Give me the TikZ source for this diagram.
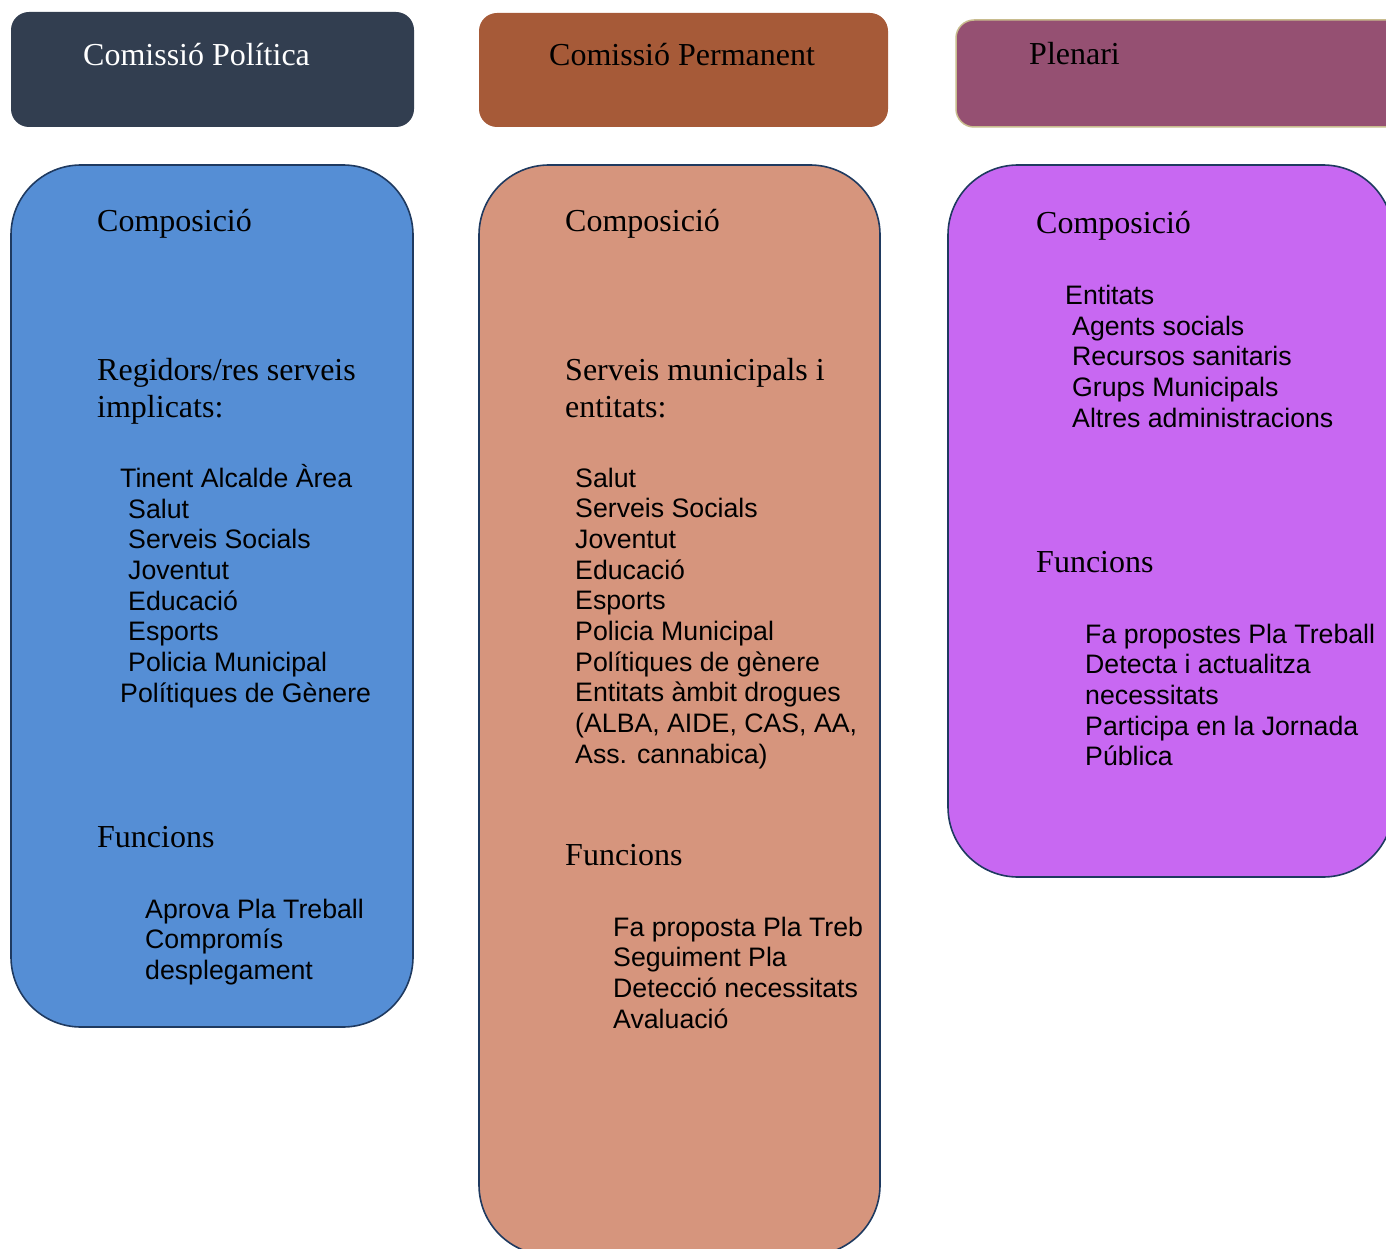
\documentclass[tikz,border=0pt]{standalone}
\usepackage{fontspec}
\setmainfont{Liberation Serif}
\newfontfamily\listfont{Liberation Sans}
\definecolor{headA}{HTML}{323E50}
\definecolor{headB}{HTML}{A65A38}
\definecolor{headC}{HTML}{955072}
\definecolor{headCline}{HTML}{C8BC8E}
\definecolor{bodyA}{HTML}{558ED5}
\definecolor{bodyB}{HTML}{D6957D}
\definecolor{bodyC}{HTML}{C868F2}
\definecolor{bodyline}{HTML}{1F3A60}
\begin{document}
% multi-line nodes are placed by the baseline of their last line
\begin{tikzpicture}[x=1pt,y=-1pt,
  headbox/.style={rectangle, rounded corners=18pt, inner sep=0pt},
  bodybox/.style={rectangle, rounded corners=70pt, inner sep=0pt, draw=bodyline, line width=1.6pt},
  title/.style={anchor=base west, inner sep=0pt, font=\fontsize{32}{37}\selectfont},
  heading/.style={anchor=base west, inner sep=0pt, align=left, font=\fontsize{32}{37}\selectfont},
  items/.style={anchor=base west, inner sep=0pt, align=left, font=\listfont\fontsize{26.7}{30.7}\selectfont}]
\path[use as bounding box] (0,0) rectangle (1386,1249);
\clip (0,0) rectangle (1386,1249);

% column headers
\node[headbox, fill=headA, minimum width=403pt, minimum height=115pt] (hA) at (212.5,69.5) {};
\node[headbox, fill=headB, minimum width=409pt, minimum height=114pt] (hB) at (683.5,70) {};
\node[headbox, fill=headC, draw=headCline, line width=1.5pt, minimum width=464pt, minimum height=107pt] (hC) at (1188,73.5) {};
\node[title, text=white] (tA) at (83,66) {Comissió Política};
\node[title] (tB) at (549,66) {Comissió Permanent};
\node[title] (tC) at (1029,65) {Plenari};

% column bodies
\node[bodybox, fill=bodyA, minimum width=402pt, minimum height=862pt] (bA) at (212,596) {};
\node[bodybox, fill=bodyB, minimum width=401pt, minimum height=1090pt] (bB) at (679.5,710) {};
\node[bodybox, fill=bodyC, minimum width=445pt, minimum height=712pt] (bC) at (1170.5,521) {};

% Comissió Política
\node[heading] (a1) at (97,232) {Composició};
\node[heading] (a2) at (97,417) {Regidors/res serveis\\implicats:};
\node[items] (a3) at (120,487) {Tinent Alcalde Àrea};
\node[items] (a4) at (128,671.5) {Salut\\Serveis Socials\\Joventut\\Educació\\Esports\\Policia Municipal};
\node[items] (a5) at (120,702) {Polítiques de Gènere};
\node[heading] (a6) at (97,847) {Funcions};
\node[items] (a7) at (145,979.4) {Aprova Pla Treball\\Compromís\\desplegament};

% Comissió Permanent
\node[heading] (b1) at (565,232) {Composició};
\node[heading] (b2) at (565,417) {Serveis municipals i\\entitats:};
\node[items] (b3) at (575,763.3) {Salut\\Serveis Socials\\Joventut\\Educació\\Esports\\Policia Municipal\\Polítiques de gènere\\Entitats àmbit drogues\\(ALBA, AIDE, CAS, AA,\\Ass. cannabica)};
\node[heading] (b4) at (565,865) {Funcions};
\node[items] (b5) at (613,1028.1) {Fa proposta Pla Treb\\Seguiment Pla\\Detecció necessitats\\Avaluació};

% Plenari
\node[heading] (c1) at (1036,234) {Composició};
\node[items] (c2) at (1065,304) {Entitats};
\node[items] (c3) at (1072,427.1) {Agents socials\\Recursos sanitaris\\Grups Municipals\\Altres administracions};
\node[heading] (c4) at (1036,572) {Funcions};
\node[items] (c5) at (1085,765.8) {Fa propostes Pla Treball\\Detecta i actualitza\\necessitats\\Participa en la Jornada\\Pública};
\end{tikzpicture}
\end{document}
